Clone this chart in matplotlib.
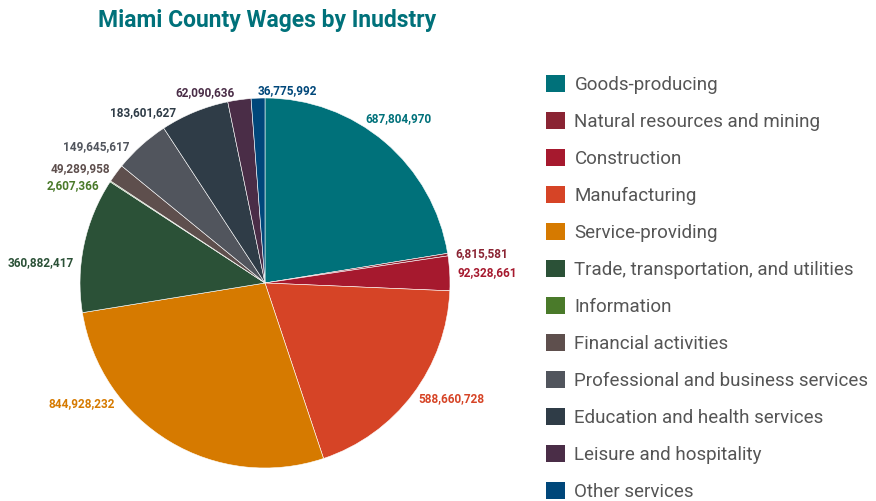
import matplotlib.pyplot as plt
import numpy as np
from matplotlib.patches import Patch

industries = [
    "Goods-producing",
    "Natural resources and mining",
    "Construction",
    "Manufacturing",
    "Service-providing",
    "Trade, transportation, and utilities",
    "Information",
    "Financial activities",
    "Professional and business services",
    "Education and health services",
    "Leisure and hospitality",
    "Other services",
]
wages = [
    687804970,
    6815581,
    92328661,
    588660728,
    844928232,
    360882417,
    2607366,
    49289958,
    149645617,
    183601627,
    62090636,
    36775992,
]
colors = [
    "#00717A",
    "#8A2433",
    "#A6192E",
    "#D64426",
    "#D67A00",
    "#2B5137",
    "#4A7A2A",
    "#5E4F4D",
    "#51555D",
    "#2F3C47",
    "#4A2D47",
    "#00477A",
]
# small angle tweaks (degrees, clockwise) so the labels don't crowd
label_nudge = [-9, 0, 0, 0, 20, -6, -3, 0, -3, -5, -1, 0]

W, H = 876, 501
fig = plt.figure(figsize=(W / 100, H / 100), dpi=100)

cx, cy, R = 265, 283, 185
ax = fig.add_axes([(cx - R) / W, (H - cy - R) / H, 2 * R / W, 2 * R / H])
wedges, _ = ax.pie(
    wages,
    colors=colors,
    startangle=90,
    counterclock=False,
    radius=1,
    wedgeprops=dict(edgecolor="white", linewidth=0.4),
)
ax.set_xlim(-1, 1)
ax.set_ylim(-1, 1)
ax.set_aspect("equal")
ax.axis("off")

# value labels just outside each slice
total = float(sum(wages))
start = 0.0
for i, v in enumerate(wages):
    frac = v / total * 360
    mid = start + frac / 2 + label_nudge[i]
    start += frac
    theta = np.radians(90 - mid)
    x, y = 1.04 * np.cos(theta), 1.04 * np.sin(theta)
    ha = "left" if x > 0.02 else "right"
    if i == len(wages) - 1:
        ha = "left"
    ax.text(
        x, y, f"{v:,}",
        ha=ha, va="center",
        color=colors[i],
        fontsize=8.5,
        fontweight="bold",
        family="Roboto",
    )

fig.text(
    267 / W, 1 - 20 / H,
    "Miami County Wages by Inudstry",
    ha="center", va="center",
    fontsize=16.5, fontweight="bold", color="#00717A", family="Roboto",
)

handles = [Patch(facecolor=c, edgecolor="none") for c in colors]
fig.legend(
    handles, industries,
    loc="upper left",
    bbox_to_anchor=(546 / W, 1 - 75 / H),
    frameon=False,
    borderpad=0,
    borderaxespad=0,
    handlelength=1.0,
    handleheight=1.0,
    handletextpad=0.52,
    labelspacing=0.97,
    labelcolor="#555555",
    prop={"family": "Roboto", "size": 13.5},
)

fig.savefig("out.png", dpi=100)
